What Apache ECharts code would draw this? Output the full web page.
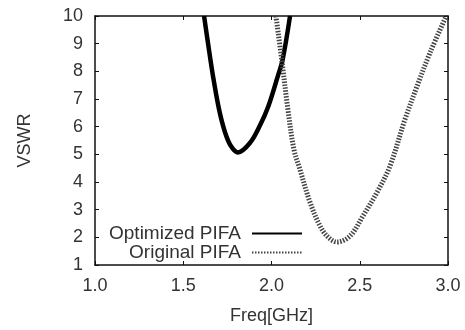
<!DOCTYPE html>
<html>
<head>
<meta charset="utf-8">
<script src="https://cdn.jsdelivr.net/npm/echarts@6/dist/echarts.min.js"></script>
<style>
  html, body { margin: 0; padding: 0; background: #fff; }
  #chart { width: 465px; height: 330px; }
</style>
</head>
<body>
<div id="chart"></div>
<script>
// values: [freq GHz, VSWR]
const optimized = [
  [1.618, 10], [1.640, 9.03], [1.669, 7.81], [1.703, 6.62], [1.737, 5.79],
  [1.771, 5.29], [1.810, 5.07], [1.880, 5.43], [1.935, 6.05], [1.980, 6.70],
  [2.035, 7.81], [2.063, 8.42], [2.105, 10]
]
const original = [
  [2.025, 10], [2.058, 8.42], [2.093, 6.62], [2.127, 5.18], [2.161, 4.46],
  [2.218, 3.27], [2.275, 2.41], [2.32, 2.01], [2.371, 1.83], [2.445, 2.05],
  [2.518, 2.77], [2.598, 3.63], [2.671, 4.57], [2.756, 6.26], [2.824, 7.45],
  [2.898, 8.67], [2.99, 10]
]
const seriesNames = ['Optimized PIFA', 'Original PIFA']

const font = 'Liberation Sans, Arial, sans-serif'
const txt = '#333'

const baseAxis = {
  axisLine: {show: true, lineStyle: {color: '#111', width: 1.5}},
  axisTick: {show: true, inside: true, length: 4, lineStyle: {color: '#111'}},
  splitLine: {show: false},
}

const myChart = echarts.init(document.getElementById('chart'))
myChart.setOption({
  animation: false,
  grid: {left: 95, right: 17, top: 16, bottom: 64},
  xAxis: [
    {
      ...baseAxis, type: 'value', min: 1.0, max: 3.0, interval: 0.5,
      name: 'Freq[GHz]', nameLocation: 'middle', nameGap: 42,
      nameTextStyle: {color: txt, fontSize: 18, fontFamily: font},
      axisLabel: {color: txt, fontSize: 18, fontFamily: font, margin: 12,
        formatter: v => v.toFixed(1)}
    },
    {
      ...baseAxis, type: 'value', position: 'top', min: 1.0, max: 3.0, interval: 0.5,
      axisLabel: {show: false}
    }
  ],
  yAxis: [
    {
      ...baseAxis, type: 'value', min: 1, max: 10, interval: 1,
      name: 'VSWR', nameLocation: 'middle', nameGap: 61,
      nameTextStyle: {color: txt, fontSize: 18, fontFamily: font},
      axisLabel: {color: txt, fontSize: 18, fontFamily: font, margin: 12}
    },
    {
      ...baseAxis, type: 'value', position: 'right', min: 1, max: 10, interval: 1,
      axisLabel: {show: false}
    }
  ],
  legend: {
    orient: 'vertical',
    align: 'right',
    right: 157,
    top: 219,
    itemWidth: 50,
    itemHeight: 14,
    itemGap: 0,
    itemStyle: {opacity: 0},
    textStyle: {color: txt, fontSize: 19, fontFamily: font, padding: [0, 6, 0, 0]},
    data: seriesNames
  },
  series: [
    {
      name: seriesNames[0], type: 'line', data: optimized, smooth: 0.35,
      symbol: 'none', clip: true, color: '#000',
      lineStyle: {color: '#000', width: 4.5}
    },
    {
      name: seriesNames[1], type: 'line', data: original, smooth: 0.35,
      symbol: 'none', clip: true, color: '#444',
      lineStyle: {color: '#444', width: 5, type: [1.5, 1.5]}
    }
  ]
})
</script>
</body>
</html>
